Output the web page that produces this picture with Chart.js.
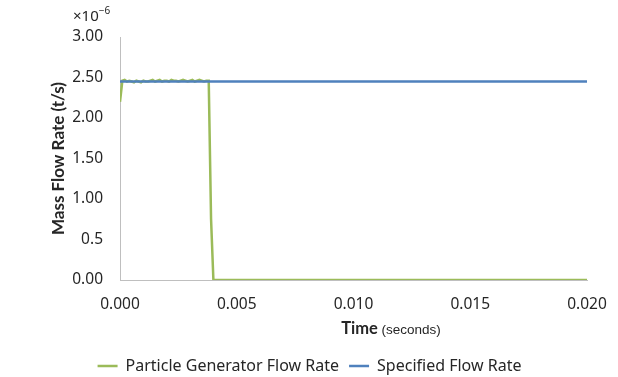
<!DOCTYPE html>
<html>
<head>
<meta charset="utf-8">
<script src="https://cdn.jsdelivr.net/npm/chart.js@4"></script>
<style>
  html, body { margin: 0; padding: 0; background: #fff; }
  #wrap { width: 618px; height: 377px; }
</style>
</head>
<body>
<div id="wrap"><canvas id="flowChart" width="618" height="377"></canvas></div>
<script>
// time in seconds, flow rate in units of 1e-6 t/s
const generatorTimes = [0, 0.0001, 0.0002, 0.0003, 0.0004, 0.0005, 0.0006, 0.0007, 0.0008, 0.0009,
    0.0010, 0.0011, 0.0012, 0.0013, 0.0014, 0.0015, 0.0016, 0.0017, 0.0018, 0.0019,
    0.0020, 0.0021, 0.0022, 0.0023, 0.0024, 0.0025, 0.0026, 0.0027, 0.0028, 0.0029,
    0.0030, 0.0031, 0.0032, 0.0033, 0.0034, 0.0035, 0.0036, 0.0037, 0.0038, 0.0039,
    0.0040, 0.0200];
const generatorFlow = [2.20, 2.46, 2.47, 2.45, 2.46, 2.45, 2.44, 2.46, 2.45, 2.44,
    2.46, 2.45, 2.45, 2.46, 2.47, 2.45, 2.46, 2.47, 2.45, 2.46,
    2.46, 2.45, 2.47, 2.46, 2.46, 2.45, 2.46, 2.47, 2.46, 2.45,
    2.46, 2.47, 2.45, 2.46, 2.47, 2.46, 2.45, 2.46, 2.46, 0.75,
    0.00, 0.00];
const specifiedTimes = [0, 0.020];
const specifiedFlow = [2.45, 2.45];
const seriesNames = ['Particle Generator Flow Rate', 'Specified Flow Rate'];
const yTickLabels = ['0.00', '0.5', '1.00', '1.50', '2.00', '2.50', '3.00'];

const FONT = "'Noto Sans', sans-serif";
const TITLE_FONT = "Lato, 'Noto Sans', sans-serif";
const TEXT = '#262626';

function toPoints(xs, ys) {
    return xs.map(function(x, i) { return { x: x, y: ys[i] }; });
}

// x-axis title with mixed bold / normal text, and the ×10⁻⁶ multiplier
const extraText = {
    id: 'extraText',
    afterDraw: function(chart) {
        const c = chart.ctx;
        c.save();
        c.fillStyle = TEXT;
        c.textBaseline = 'alphabetic';
        // axis title
        c.font = 'bold 16.5px ' + TITLE_FONT;
        const w1 = c.measureText('Time').width;
        c.font = "13.5px 'Liberation Sans', sans-serif";
        const w2 = c.measureText(' (seconds)').width;
        const x = 391 - (w1 + w2) / 2;
        c.font = 'bold 16.5px ' + TITLE_FONT;
        c.fillText('Time', x, 334);
        c.font = "13.5px 'Liberation Sans', sans-serif";
        c.fillText(' (seconds)', x + w1, 334);
        // multiplier
        c.font = '15px ' + FONT;
        c.fillText('\u00d710', 73, 21);
        const wm = c.measureText('\u00d710').width;
        c.font = '10px ' + FONT;
        c.fillText('\u2212' + '6', 73 + wm, 14);
        c.restore();
    }
};

// nudge the legend to sit where the original has it
const legendShift = {
    id: 'legendShift',
    afterLayout: function(chart) {
        chart.legend.left += 16;
        chart.legend.right += 16;
        chart.legend.top += 7;
        chart.legend.bottom += 7;
    }
};

new Chart(document.getElementById('flowChart').getContext('2d'), {
    type: 'line',
    data: {
        datasets: [
            {
                label: seriesNames[0],
                data: toPoints(generatorTimes, generatorFlow),
                borderColor: '#9BBB59',
                backgroundColor: '#9BBB59',
                borderWidth: 2.5,
                pointRadius: 0,
                tension: 0,
                order: 1
            },
            {
                label: seriesNames[1],
                data: toPoints(specifiedTimes, specifiedFlow),
                borderColor: '#4F81BD',
                backgroundColor: '#4F81BD',
                borderWidth: 2.5,
                pointRadius: 0,
                tension: 0,
                order: 0
            }
        ]
    },
    options: {
        responsive: false,
        animation: false,
        layout: { padding: { left: 0, right: 31, top: 37, bottom: 0 } },
        scales: {
            x: {
                type: 'linear',
                min: 0,
                max: 0.02,
                grid: { display: false },
                border: { display: true, color: '#BFBFBF', width: 1 },
                ticks: {
                    stepSize: 0.005,
                    color: TEXT,
                    font: { family: FONT, size: 15.5 },
                    padding: 7,
                    maxRotation: 0,
                    callback: function(v) { return v.toFixed(3); }
                },
                afterFit: function(scale) { scale.height = 61; }
            },
            y: {
                min: 0,
                max: 3,
                grid: { display: false },
                border: { display: true, color: '#BFBFBF', width: 1 },
                ticks: {
                    stepSize: 0.5,
                    color: TEXT,
                    font: { family: FONT, size: 15.5 },
                    padding: 9,
                    callback: function(v) { return yTickLabels[Math.round(v * 2)]; }
                },
                title: {
                    display: true,
                    text: 'Mass Flow Rate (t/s)',
                    color: TEXT,
                    font: { family: TITLE_FONT, size: 17, weight: 'bold' },
                    padding: { top: 48, bottom: 0 }
                },
                afterFit: function(scale) { scale.width = 120; }
            }
        },
        plugins: {
            legend: {
                position: 'bottom',
                labels: {
                    usePointStyle: true,
                    pointStyle: 'line',
                    pointStyleWidth: 20,
                    boxWidth: 20,
                    padding: 10,
                    color: TEXT,
                    font: { family: FONT, size: 16 },
                    sort: function(a, b) { return a.datasetIndex - b.datasetIndex; }
                }
            },
            tooltip: { enabled: false }
        }
    },
    plugins: [extraText, legendShift]
});
</script>
</body>
</html>
